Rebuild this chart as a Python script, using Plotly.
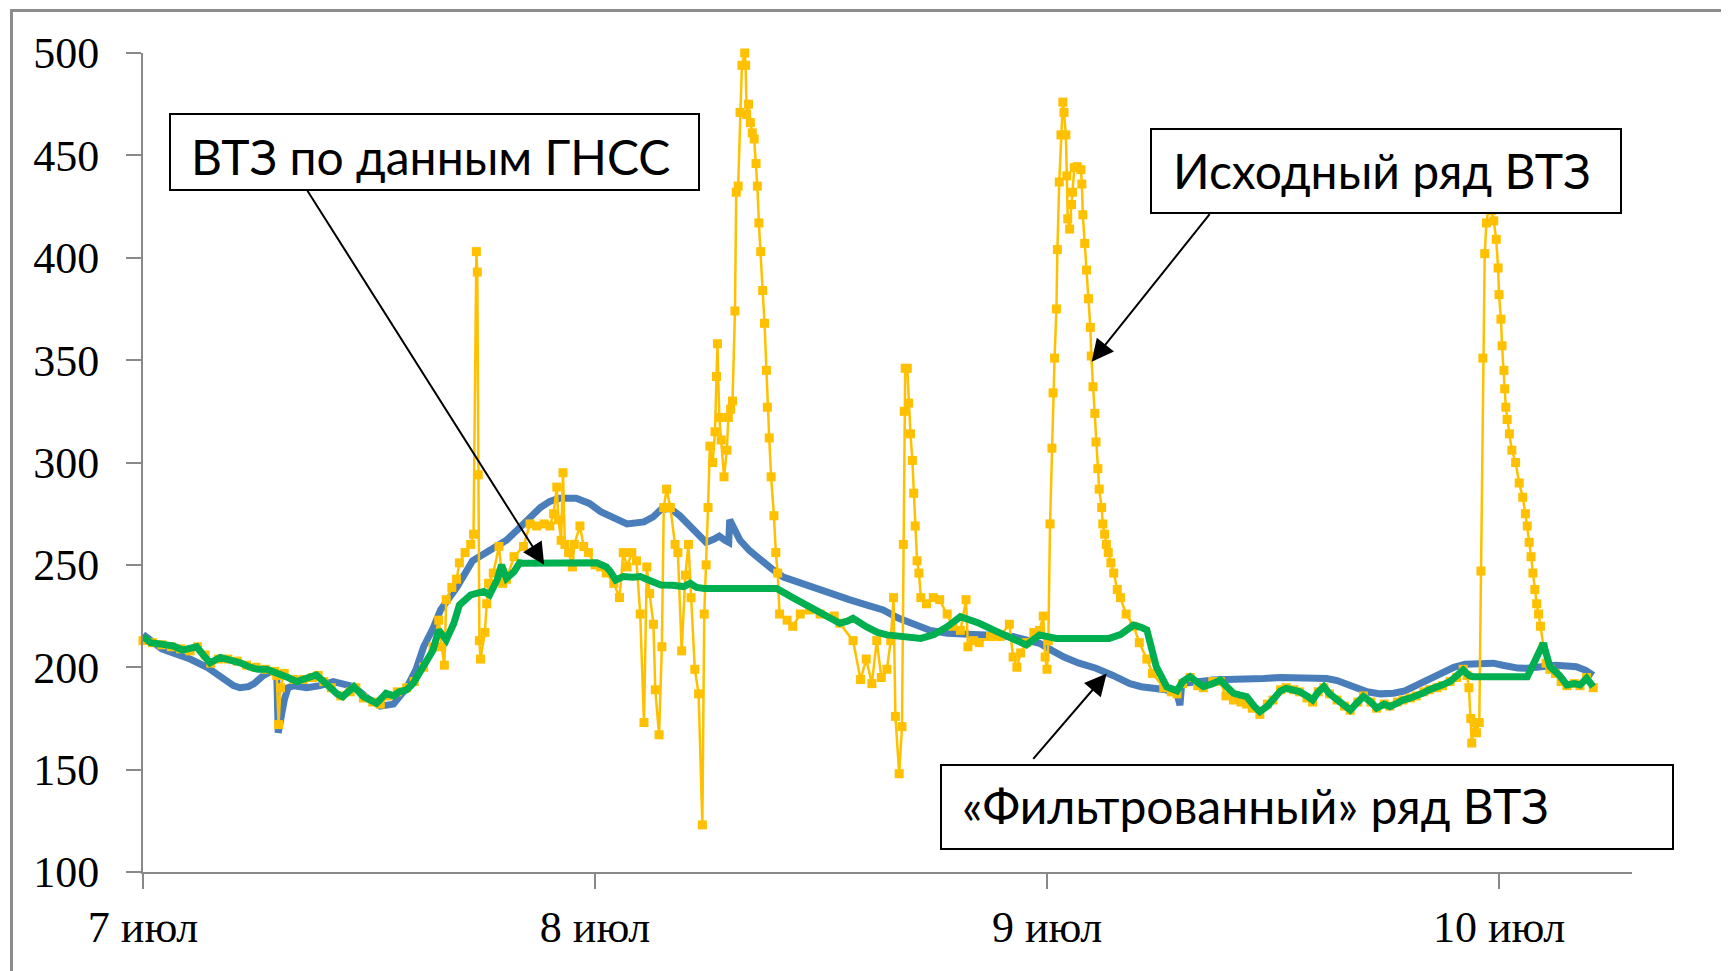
import pandas as pd
import plotly.graph_objects as go

# ---------------- data (hours since 7 July 00:00, value) ----------------
blue_h = [0.0, 0.5, 1.0, 1.6, 2.5, 3.4, 4.2, 4.8, 5.15, 5.6, 5.9, 6.4, 6.8, 7.1, 7.18, 7.3, 7.5, 7.7,
          8.0, 8.7, 9.4, 10.1, 10.6, 11.2, 11.9, 12.6, 13.3, 14.0, 14.5, 14.9, 15.4, 15.8, 16.66, 17.5,
          18.4, 19.3, 20.2, 20.7, 21.1, 21.6, 22.1, 23.0, 23.7, 24.3, 25.0, 25.7, 26.6, 27.1, 27.5, 28.0,
          28.5, 28.9, 29.4, 29.9, 30.3, 30.6, 30.9, 31.1, 31.15, 31.4, 31.7, 32.2, 32.8, 33.4, 34.0,
          34.9, 35.8, 36.6, 37.5, 38.4, 39.3, 40.1, 40.9, 41.8, 42.7, 43.5, 44.4, 45.3, 46.2, 47.0, 47.6,
          48.3, 48.9, 49.7, 50.6, 51.5, 52.4, 53.0, 53.6, 54.3, 54.9, 55.06, 55.15, 55.8, 56.8, 57.5,
          58.6, 59.5, 60.4, 61.1, 62.0, 62.85, 63.4, 63.9, 64.5, 65.0, 65.7, 66.4, 67.0, 67.45, 68.1,
          68.7, 69.2, 69.6, 70.2, 70.8, 71.3, 71.7, 72.2, 72.6, 73.0, 73.5, 74.0, 74.4, 75.0, 75.6,
          76.1, 76.6, 77.0]
blue_v = [216, 212, 209, 207, 204, 200, 195, 191, 190, 190.5, 192, 196, 198, 197, 168, 175, 184, 190,
          191, 190, 191, 193, 192, 190.5, 185, 181, 182, 190, 199, 210, 219, 228, 239, 252,
          257, 262, 270, 275, 278, 281, 282.5, 282.5, 280, 276, 273, 270, 271, 273.5, 277, 277.5,
          274, 270, 265, 261, 262.5, 264, 262, 261, 272, 267, 262, 257, 252, 248, 244,
          241, 238.5, 235.5, 233, 230.5, 228, 224, 221, 218, 216.6, 216, 215.8, 215.5, 215, 213.5, 211.7,
          208, 205, 202, 199.5, 196, 192, 190.5, 189.7, 189, 187, 181.5, 192, 193, 193.8, 194,
          194, 194.5, 195, 195, 195, 194.5, 193.5, 192, 190, 188, 187, 187.3, 188.5, 190.5, 193,
          195.4, 198, 200, 201.5, 202, 202, 202, 201, 200, 199.6, 199.5, 200, 200.5, 201, 200.6,
          200.3, 198.5, 196]

yellow_h = [0.0, 0.5, 1.0, 1.5, 2.0, 2.5, 2.9, 3.3, 3.6, 4.0, 4.5, 5.0, 5.5, 6.0, 6.5, 7.0, 7.1, 7.2,
            7.3, 7.5, 8.0, 8.5, 9.0, 9.3, 9.6, 10.0, 10.5, 11.0, 11.3, 11.7, 12.2, 12.6, 13.0, 13.5,
            14.0, 14.4, 14.9, 15.4, 15.7, 15.86, 16.0, 16.1, 16.4, 16.65, 16.8, 17.1, 17.4, 17.55,
            17.7, 17.75, 17.8, 17.86, 17.92, 18.15, 18.25, 18.35, 18.6, 18.9, 19.1, 19.3, 19.7, 20.2,
            20.55, 20.9, 21.3, 21.6, 21.8, 21.97, 22.06, 22.2, 22.3, 22.4, 22.6, 22.8, 22.9, 23.2,
            23.4, 23.65, 24.0, 24.3, 24.6, 25.0, 25.3, 25.5, 25.7, 25.95, 26.2, 26.4, 26.6, 26.75,
            26.9, 27.1, 27.2, 27.4, 27.55, 27.65, 27.8, 28.0, 28.25, 28.4, 28.6, 28.8, 28.96, 29.1,
            29.3, 29.5, 29.7, 29.8, 29.9, 30.0, 30.1, 30.25, 30.37, 30.45, 30.5, 30.6, 30.7, 30.85,
            31.0, 31.08, 31.2, 31.3, 31.43, 31.5, 31.6, 31.7, 31.8, 31.95, 32.0, 32.05, 32.15, 32.25,
            32.35, 32.45, 32.55, 32.62, 32.7, 32.8, 32.9, 33.0, 33.1, 33.15, 33.25, 33.35, 33.5,
            33.6, 33.7, 33.8, 34.2, 34.5, 34.9, 35.4, 35.95, 36.7, 37.0, 37.7, 38.1, 38.4, 38.7,
            38.96, 39.2, 39.5, 39.7, 39.85, 39.95, 40.15, 40.3, 40.37, 40.42, 40.47, 40.58, 40.65,
            40.75, 40.85, 40.92, 41.0, 41.1, 41.2, 41.3, 41.6, 41.96, 42.3, 42.7, 43.0, 43.4, 43.7,
            43.8, 44.1, 44.4, 45.0, 45.5, 46.0, 46.2, 46.4, 46.6, 46.9, 47.3, 47.6, 47.8, 47.9, 48.0,
            48.07, 48.16, 48.26, 48.32, 48.4, 48.5, 48.55, 48.65, 48.74, 48.84, 48.9, 49.0, 49.05,
            49.1, 49.2, 49.3, 49.35, 49.45, 49.6, 49.8, 49.85, 49.9, 50.0, 50.1, 50.2, 50.3, 50.35,
            50.44, 50.54, 50.6, 50.7, 50.77, 50.9, 50.96, 51.06, 51.15, 51.25, 51.39, 51.54, 51.73,
            51.9, 52.2, 52.6, 52.9, 53.3, 53.6, 54.2, 54.6, 54.9, 55.2, 55.6, 56.0, 56.3, 56.8, 57.2,
            57.5, 57.9, 58.3, 58.6, 58.9, 59.3, 59.7, 60.0, 60.4, 60.7, 61.1, 61.4, 61.8, 62.1, 62.4,
            62.7, 63.0, 63.4, 63.8, 64.1, 64.5, 64.8, 65.2, 65.5, 65.9, 66.2, 66.6, 66.9, 67.3, 67.6,
            68.0, 68.3, 68.7, 69.0, 69.4, 69.75, 70.1, 70.3, 70.4, 70.5, 70.55, 70.7, 70.8, 70.95,
            71.04, 71.14, 71.24, 71.33, 71.45, 71.6, 71.72, 71.85, 71.95, 72.0, 72.1, 72.16, 72.26,
            72.3, 72.36, 72.43, 72.55, 72.68, 72.88, 73.07, 73.26, 73.4, 73.5, 73.6, 73.7, 73.8,
            73.9, 74.0, 74.1, 74.2, 74.35, 74.5, 74.7, 75.0, 75.3, 75.6, 76.0, 76.3, 76.65, 77.0]
yellow_v = [213, 212, 211, 210, 209, 208, 210, 206, 202, 204, 204, 203, 201, 200, 199, 198, 196, 172,
            190, 197, 194, 194, 195, 196, 193, 190, 186, 188, 190, 185, 183, 182, 186, 188,
            190, 193, 200, 210, 223, 210, 201, 233, 239, 243, 251, 256, 260, 265,
            403, 393, 294, 213, 204, 217, 231, 241, 246, 259, 241, 243, 254, 259,
            270, 269, 270, 269, 275, 288, 272, 262, 295, 260, 256, 249, 260, 269,
            259, 256, 250, 249, 246, 241, 234, 256, 249, 256, 252, 226, 173, 249,
            236, 221, 189, 167, 210, 278, 287, 278, 260, 256, 208, 245, 260, 234,
            199, 187, 123, 226, 250, 278, 308, 300, 315, 342, 358, 322, 311, 293,
            306, 322, 326, 330, 374, 432, 435, 471, 494, 500, 494, 470, 475, 466,
            461, 458, 446, 435, 417, 403, 384, 368, 345, 327, 312, 293, 274,
            256, 246, 226, 223, 220, 226, 228, 226, 225, 221.5, 213, 194, 204, 192,
            213, 195, 199, 213, 234, 176, 148, 171, 260, 325, 346, 346, 329,
            314, 301, 285, 269, 252, 246, 234, 231, 234, 233, 226, 220, 218, 233,
            210, 213, 212, 215, 215, 221, 205, 200, 207, 212, 217, 218, 225, 205, 199,
            213, 270, 307, 334, 351, 375, 404, 437, 460, 476, 471, 460, 440,
            419, 414, 426, 432, 444, 444.5, 443, 436, 421, 407, 394, 380, 366, 352,
            337, 324, 310, 297, 287, 278, 270, 265, 260, 256, 251, 246, 238,
            234, 226, 220, 212, 204, 197, 190, 188, 187, 192, 195, 191, 190, 193, 193,
            186, 184, 183, 182, 180, 177, 182, 184, 189, 190, 189, 188, 185, 183, 188,
            190, 187, 184, 181, 179, 183, 186, 183, 180, 182, 181, 183, 184, 185, 186,
            188, 189, 190, 191, 193, 195, 199, 196, 190, 175, 163, 173, 168, 173,
            247, 351, 402, 417, 425, 423, 418, 409, 395, 382, 370, 357, 345,
            336, 327, 321, 314, 306, 300, 290, 283, 275, 269, 261, 254, 246,
            238, 231, 226, 220, 210, 202, 199, 197, 193, 191, 192, 191, 195, 190]

green_h = [0.0, 0.4, 0.9, 1.6, 2.1, 2.5, 2.85, 3.2, 3.56, 4.1, 4.8, 5.2, 5.68, 6.1, 6.57, 6.9, 7.27,
           7.7, 8.16, 8.6, 9.2, 9.6, 9.93, 10.3, 10.6, 11.2, 11.7, 12.1, 12.4, 12.9, 13.3, 13.6, 14.0,
           14.35, 14.9, 15.4, 15.7, 16.1, 16.5, 16.8, 17.4, 18.1, 18.4, 18.8, 19.04, 19.3, 19.7, 20.0,
           20.2, 21.1, 21.6, 22.5, 23.3, 24.1, 24.6, 24.8, 25.1, 25.5, 26.0, 26.4, 27.0, 27.5, 28.1,
           28.7, 29.05, 29.4, 29.8, 31.0, 32.0, 33.0, 33.65, 34.4, 35.1, 35.8, 36.4, 37.0, 37.4, 37.7,
           38.4, 39.0, 39.5, 40.3, 41.3, 42.0, 42.7, 43.4, 44.4, 45.2, 46.1, 46.9, 47.6, 48.5, 49.5,
           50.4, 51.3, 51.9, 52.6, 53.0, 53.3, 53.8, 54.35, 54.9, 55.2, 55.6, 56.0, 56.3, 56.8, 57.2,
           57.6, 57.9, 58.2, 58.6, 59.0, 59.3, 59.7, 60.0, 60.4, 60.7, 61.1, 61.4, 61.8, 62.1, 62.4,
           62.7, 63.0, 63.4, 63.8, 64.1, 64.5, 64.8, 65.2, 65.5, 65.9, 66.2, 66.6, 66.9, 67.3, 67.6,
           68.0, 68.3, 68.7, 69.0, 69.4, 69.75, 70.1, 70.4, 70.6, 71.5, 72.5, 73.5, 73.9, 74.35, 74.7,
           75.0, 75.2, 75.6, 76.0, 76.3, 76.65, 77.0]
green_v = [215, 212, 211.4, 210.4, 208.4, 209, 210, 206, 202.2, 204.8, 203.2, 202, 200, 199, 199, 198, 197,
           195, 193, 194, 196.2, 193, 189.7, 187, 185.6, 190.5, 185.6, 184, 182.4, 187.3, 186, 188, 189,
           192.2, 200.3, 208.4, 218.2, 213.3, 221.4, 230.4, 235.3, 237, 235.3, 242.6, 250, 243.4, 246.7, 251,
           250.8, 250.8, 251.6, 251, 251, 251, 249, 247, 242.6, 244.3, 244, 244.3, 242, 240.2, 240,
           239.4, 241, 239, 238.5, 238.5, 238.5, 238.5, 238.5, 234.5, 231, 228, 225, 221.5, 222.5, 223.9,
           219.8, 217, 215.8, 215, 214.1, 216, 219.8, 224.7, 221.5, 218, 213.8, 210.9, 215.8, 214.1, 214.1,
           214.1, 214.1, 216, 220.6, 219.5, 218.2, 200.3, 190.5, 188.5, 193, 195.4, 192, 190.5, 192, 193.8,
           190, 187.3, 186.5, 185.7, 181, 178.3, 181, 184, 188.5, 189.7, 189, 188.1, 186, 184, 188,
           190.5, 187, 184, 181, 179.1, 183, 185.7, 183, 180, 182, 180.8, 182.5, 184, 185, 185.7,
           187.5, 189, 190, 191.4, 193, 195.4, 198.7, 196, 195.4, 195.4, 195.4, 195.4, 203, 211.7, 200.3,
           198, 196.2, 191.4, 192, 191.4, 194.6, 190.5]

tick_days = [0, 1, 2, 3]
tick_text = ["7 июл", "8 июл", "9 июл", "10 июл"]
y_ticks = [100, 150, 200, 250, 300, 350, 400, 450, 500]

label_gnss = "ВТЗ по данным ГНСС"
label_raw = "Исходный ряд ВТЗ"
label_filt = "«Фильтрованный» ряд ВТЗ"

# ---------------- helpers ----------------
base = pd.Timestamp("2014-07-07 00:00")


def t(hours):
    return [base + pd.Timedelta(hours=h) for h in hours]


def t1(h):
    return base + pd.Timedelta(hours=h)


OFF = 8                      # page body margin of the html page
W, H = 1729 - OFF, 971 - OFF
ML, MR, MT, MB = 135, 97, 45, 99
PW, PH = W - ML - MR, H - MT - MB


def px(xp):                  # page pixel -> paper x
    return (xp - OFF - ML) / PW


def py(yp):                  # page pixel -> paper y
    return (H - MB - (yp - OFF)) / PH


x_end_hours = 79.06

# ---------------- figure ----------------
fig = go.Figure()
fig.add_trace(go.Scatter(x=t(blue_h), y=blue_v, mode="lines",
                         line=dict(color="#4A7EBB", width=7), name="ГНСС"))
fig.add_trace(go.Scatter(x=t(yellow_h), y=yellow_v, mode="lines+markers",
                         line=dict(color="#FFC000", width=2.5),
                         marker=dict(symbol="square", size=9, color="#FFC000"),
                         cliponaxis=False, name="Исходный"))
fig.add_trace(go.Scatter(x=t(green_h), y=green_v, mode="lines",
                         line=dict(color="#00B050", width=7), name="Фильтр"))

axis_grey = "#898989"
tick_font = dict(family="Liberation Serif, Times New Roman, serif", size=44, color="black")

fig.update_xaxes(range=[base, t1(x_end_hours)], showgrid=False, zeroline=False,
                 showline=True, linecolor=axis_grey, linewidth=2,
                 ticks="outside", ticklen=15, tickwidth=2, tickcolor=axis_grey,
                 tickvals=[base + pd.Timedelta(days=d) for d in tick_days], ticktext=tick_text,
                 tickfont=tick_font)
fig.update_yaxes(range=[100, 500], showgrid=False, zeroline=False,
                 showline=True, linecolor=axis_grey, linewidth=2,
                 ticks="outside", ticklen=15, tickwidth=2, tickcolor=axis_grey,
                 tickvals=y_ticks, tickfont=tick_font, ticklabelstandoff=18)

shapes = []
# outer chart frame
shapes.append(dict(type="rect", xref="paper", yref="paper",
                   x0=px(11.5), x1=px(1729 + 20), y0=py(971 + 20), y1=py(10.5),
                   line=dict(color="#8C8C8C", width=3), fillcolor="rgba(0,0,0,0)", layer="above"))

boxes = [  # (left, top, right, bottom) in page pixels, text, text-left, text-mid-y
    ((170, 114, 699, 190), label_gnss, 189, 156),
    ((1151, 129, 1621, 213), label_raw, 1171, 170),
    ((941, 765, 1673, 849), label_filt, 960, 805),
]
annotations = []
for (l, tp, r, b), txt, tx, ty in boxes:
    shapes.append(dict(type="rect", xref="paper", yref="paper",
                       x0=px(l), x1=px(r), y0=py(b), y1=py(tp),
                       line=dict(color="black", width=2), fillcolor="white", layer="above"))
    annotations.append(dict(xref="paper", yref="paper", x=px(tx), y=py(ty),
                            xanchor="left", yanchor="middle", showarrow=False, text=txt,
                            font=dict(family="Lato, Carlito, Noto Sans, sans-serif", size=48, color="black")))

arrows = [  # head (hours, value), tail (hours, value)
    ((21.3, 250.0), (8.68, 433.5)),
    ((50.37, 349.2), (56.7, 422.0)),
    ((51.17, 197.0), (47.2, 154.5)),
]
for (hx, hy), (tx_, ty_) in arrows:
    annotations.append(dict(x=t1(hx), y=hy, ax=t1(tx_), ay=ty_, xref="x", yref="y",
                            axref="x", ayref="y", text="", showarrow=True,
                            arrowhead=2, arrowsize=2.2, arrowwidth=2, arrowcolor="black"))

fig.update_layout(width=W, height=H, margin=dict(l=ML, r=MR, t=MT, b=MB),
                  paper_bgcolor="white", plot_bgcolor="white", showlegend=False,
                  shapes=shapes, annotations=annotations)

fig.write_html("out.html")
